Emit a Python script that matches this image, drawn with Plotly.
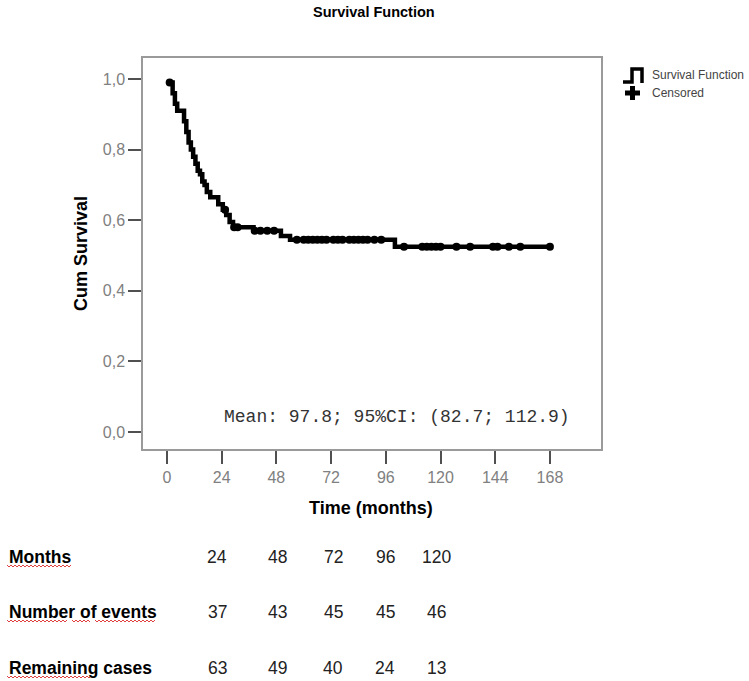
import plotly.graph_objects as go
import numpy as np

# ---- data ----
step_times = [1.2, 2.5, 3.5, 4.5, 7.5, 8.5, 9.5, 10.5, 11.5, 12.5, 13.5, 14.5, 15.5, 16.5,
              17.5, 19, 22.5, 24.5, 26, 27.5, 29, 38, 50, 54, 100, 168]
step_surv = [0.99, 0.96, 0.93, 0.91, 0.88, 0.85, 0.82, 0.80, 0.78, 0.76, 0.74, 0.73, 0.71, 0.70,
             0.68, 0.665, 0.645, 0.63, 0.615, 0.595, 0.58, 0.57, 0.555, 0.545, 0.525, 0.525]
censored_times = [1.2, 25.5, 29.5, 31, 38.5, 41, 44, 47, 57, 60, 62, 64, 66, 68, 70, 73, 75, 77, 80,
                  82, 84, 86, 88, 91, 94, 104, 112, 114, 116, 118, 120, 127, 133, 143, 145,
                  150, 155, 168]

x_ticks = [0, 24, 48, 72, 96, 120, 144, 168]
y_ticks = [0.0, 0.2, 0.4, 0.6, 0.8, 1.0]
y_ticktext = ["0,0", "0,2", "0,4", "0,6", "0,8", "1,0"]

table_rows = ["Months", "Number of events", "Remaining cases"]
table_months = [24, 48, 72, 96, 120]
table_events = [37, 43, 45, 45, 46]
table_remaining = [63, 49, 40, 24, 13]

mean_text = "Mean: 97.8; 95%CI: (82.7; 112.9)"

# ---- layout geometry (pixels) ----
W, H = 749, 681
PL, PR, PT, PB = 143, 601, 58, 449


def px(xp):
    return (xp - PL) / (PR - PL)


def py(yp):
    return (PB - yp) / (PB - PT)


def surv_at(t):
    idx = np.searchsorted(step_times, t, side="right") - 1
    idx = max(idx, 0)
    return step_surv[idx]


cens_y = [surv_at(t) for t in censored_times]

fig = go.Figure()
fig.add_trace(go.Scatter(x=step_times, y=step_surv, mode="lines",
                         line=dict(shape="hv", color="black", width=4.5),
                         showlegend=False, hoverinfo="skip"))
fig.add_trace(go.Scatter(x=censored_times, y=cens_y, mode="markers",
                         marker=dict(symbol="circle", size=8, color="black"),
                         showlegend=False, hoverinfo="skip"))

axis_common = dict(showgrid=False, zeroline=False, showline=True, linecolor="#9a9a9a",
                   linewidth=1.5, mirror=True, ticks="outside", ticklen=13, tickwidth=2,
                   tickcolor="#505050",
                   tickfont=dict(family="Liberation Sans, Arial", size=16, color="#808080"))

fig.update_xaxes(range=[-10.5, 190.4], tickvals=x_ticks, ticktext=[str(v) for v in x_ticks],
                 **axis_common)
fig.update_yaxes(range=[-0.048, 1.0595], tickvals=y_ticks, ticktext=y_ticktext, **axis_common)

annotations = []
shapes = []

# title
annotations.append(dict(text="<b>Survival Function</b>", x=px(374), y=py(12), xref="paper", yref="paper",
                        showarrow=False, font=dict(family="Liberation Sans, Arial", size=14.5, color="black"),
                        xanchor="center", yanchor="middle"))
# axis titles
annotations.append(dict(text="<b>Time (months)</b>", x=px(371), y=py(508), xref="paper", yref="paper",
                        showarrow=False, font=dict(family="Liberation Sans, Arial", size=18, color="black"),
                        xanchor="center", yanchor="middle"))
annotations.append(dict(text="<b>Cum Survival</b>", x=px(81), y=py(254), xref="paper", yref="paper",
                        showarrow=False, textangle=-90,
                        font=dict(family="Liberation Sans, Arial", size=18, color="black"),
                        xanchor="center", yanchor="middle"))
# mean annotation
annotations.append(dict(text=mean_text, x=px(396.5), y=py(416.5), xref="paper", yref="paper",
                        showarrow=False, font=dict(family="Liberation Mono, Courier New", size=18, color="#333333"),
                        xanchor="center", yanchor="middle"))

# legend (manual)
shapes.append(dict(type="path", xref="paper", yref="paper",
                   path=f"M {px(623)},{py(82)} L {px(632)},{py(82)} L {px(632)},{py(69)} "
                        f"L {px(642)},{py(69)} L {px(642)},{py(83)}",
                   line=dict(color="black", width=3.5)))
shapes.append(dict(type="line", xref="paper", yref="paper", x0=px(625), x1=px(640), y0=py(93), y1=py(93),
                   line=dict(color="black", width=5)))
shapes.append(dict(type="line", xref="paper", yref="paper", x0=px(632.5), x1=px(632.5), y0=py(86), y1=py(100),
                   line=dict(color="black", width=5)))
annotations.append(dict(text="Survival Function", x=px(650), y=py(75), xref="paper", yref="paper",
                        showarrow=False, font=dict(family="Liberation Sans, Arial", size=12, color="#444444"),
                        xanchor="left", yanchor="middle"))
annotations.append(dict(text="Censored", x=px(650), y=py(93), xref="paper", yref="paper",
                        showarrow=False, font=dict(family="Liberation Sans, Arial", size=12, color="#444444"),
                        xanchor="left", yanchor="middle"))

# table below
row_y = [556.5, 611.5, 667.5]
col_x = [217, 277, 333, 385, 436]
row_vals = [table_months, table_events, table_remaining]
for r, (label, vals) in enumerate(zip(table_rows, row_vals)):
    annotations.append(dict(text=f"<b>{label}</b>", x=px(7), y=py(row_y[r]), xref="paper", yref="paper",
                            showarrow=False, font=dict(family="Liberation Sans, Arial", size=17.5, color="black"),
                            xanchor="left", yanchor="middle"))
    for c, v in enumerate(vals):
        annotations.append(dict(text=str(v), x=px(col_x[c]), y=py(row_y[r]), xref="paper", yref="paper",
                                showarrow=False,
                                font=dict(family="Liberation Sans, Arial", size=17.5, color="#222222"),
                                xanchor="center", yanchor="middle"))

# spell-check squiggles (decorative)
squiggles = [(7, 72, 566), (7, 67, 621), (72, 90, 621), (95, 155, 621), (7, 95, 677)]
for x0, x1, yb in squiggles:
    pts = []
    xs = np.arange(x0, x1 + 0.1, 2)
    for i, xx in enumerate(xs):
        yy = yb + (1 if i % 2 else -1)
        pts.append(f"{px(xx)},{py(yy)}")
    shapes.append(dict(type="path", xref="paper", yref="paper", path="M " + " L ".join(pts),
                       line=dict(color="#e04040", width=1)))

fig.update_layout(width=W, height=H, margin=dict(l=PL, r=W - PR, t=PT, b=H - PB),
                  paper_bgcolor="white", plot_bgcolor="white",
                  annotations=annotations, shapes=shapes, showlegend=False)

fig.write_html("out.html")
